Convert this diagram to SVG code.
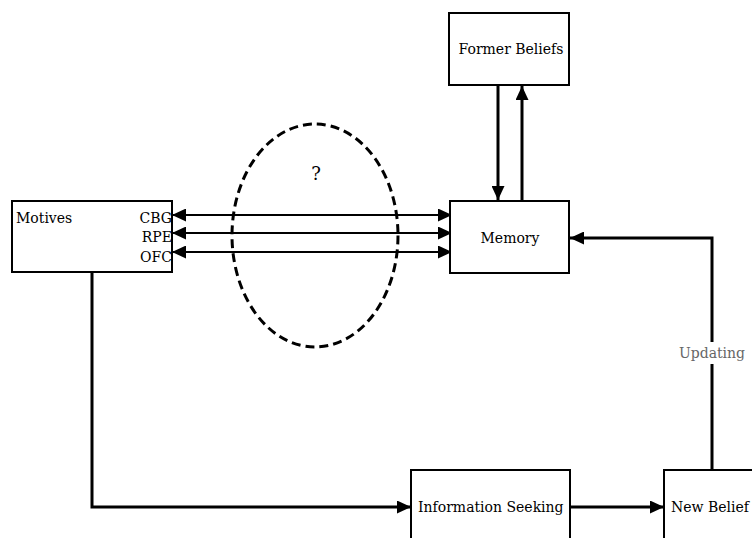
<svg xmlns="http://www.w3.org/2000/svg" width="752" height="538" viewBox="0 0 752 538">
<style>
.box{fill:#fff;stroke:#000;stroke-width:2}
.t{font-family:"DejaVu Serif","Liberation Serif",serif;font-size:14px;fill:#000}
.c{fill:none;stroke:#000;stroke-width:3}
.thin{fill:none;stroke:#000;stroke-width:2}
</style>
<defs>
<marker id="ah" viewBox="0 0 14 13" refX="14" refY="6.5" markerWidth="14" markerHeight="13" markerUnits="userSpaceOnUse" orient="auto-start-reverse">
<path d="M0,0 L14,6.5 L0,13 Z" fill="#000"/>
</marker>
</defs>
<rect width="752" height="538" fill="#fff"/>
<g id="connectors">
<line class="thin" x1="172" y1="215" x2="452" y2="215" marker-start="url(#ah)" marker-end="url(#ah)"/>
<line class="thin" x1="172" y1="233" x2="452" y2="233" marker-start="url(#ah)" marker-end="url(#ah)"/>
<line class="thin" x1="172" y1="252" x2="452" y2="252" marker-start="url(#ah)" marker-end="url(#ah)"/>
<line class="c" x1="498" y1="85" x2="498" y2="200" marker-end="url(#ah)"/>
<line class="c" x1="522" y1="201" x2="522" y2="86" marker-end="url(#ah)"/>
<polyline class="c" points="92,272 92,507 411,507" marker-end="url(#ah)"/>
<line class="c" x1="570" y1="507" x2="664" y2="507" marker-end="url(#ah)"/>
<polyline class="c" points="712,470 712,238 570,238" marker-end="url(#ah)"/>
<rect x="676" y="342" width="72" height="22" fill="#fff"/>
<text class="t" x="712" y="358" text-anchor="middle" style="fill:#666">Updating</text>
</g>
<g id="uncertain">
<ellipse cx="315" cy="235.5" rx="83" ry="111.5" fill="none" stroke="#000" stroke-width="3" stroke-dasharray="9,5"/>
<text class="t" x="316" y="180" text-anchor="middle" style="font-size:18px">?</text>
</g>
<g id="motives">
<rect class="box" x="12" y="201" width="160" height="71"/>
<text class="t" x="16" y="223">Motives</text>
<text class="t" x="172" y="223" text-anchor="end">CBG</text>
<text class="t" x="172" y="242" text-anchor="end">RPE</text>
<text class="t" x="172" y="262" text-anchor="end">OFC</text>
</g>
<g id="memory">
<rect class="box" x="450" y="201" width="119" height="72"/>
<text class="t" x="510" y="243" text-anchor="middle">Memory</text>
</g>
<g id="former-beliefs">
<rect class="box" x="449" y="13" width="120" height="72"/>
<text class="t" x="511" y="54" text-anchor="middle">Former Beliefs</text>
</g>
<g id="information-seeking">
<rect class="box" x="411" y="470" width="159" height="90"/>
<text class="t" x="418" y="512">Information Seeking</text>
</g>
<g id="new-belief">
<rect class="box" x="664" y="470" width="120" height="90"/>
<text class="t" x="671" y="512">New Belief</text>
</g>
</svg>
